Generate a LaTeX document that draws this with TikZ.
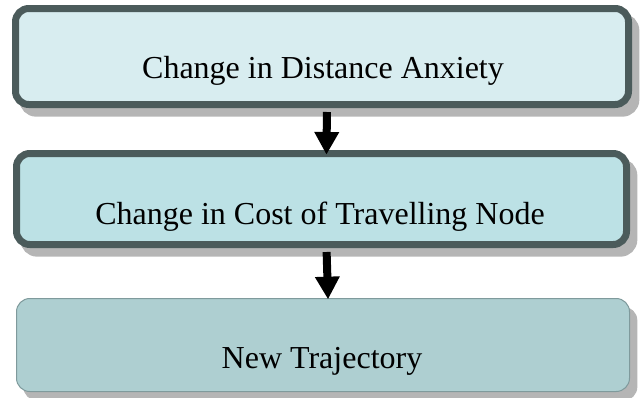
\documentclass[tikz,border=0pt]{standalone}
\usepackage{fontspec}
\setmainfont{Liberation Serif}
\usepackage{tikz}
\usetikzlibrary{arrows.meta}
\definecolor{edgedark}{HTML}{4B5B5B}
\definecolor{edgelight}{HTML}{7F9A9C}
\definecolor{fillone}{HTML}{D8EDF0}
\definecolor{filltwo}{HTML}{BCE1E5}
\definecolor{fillthree}{HTML}{AECFD1}
\definecolor{shadowgray}{HTML}{B5B5B5}

\begin{document}
\begin{tikzpicture}[x=0.75pt,y=-0.75pt,
		shadowed/.style={preaction={draw=shadowgray, fill=shadowgray, transform canvas={shift={(5.5pt,-6.5pt)}}}},
		step box/.style={rectangle, rounded corners=10pt, shadowed, minimum width=459.75pt, minimum height=68.25pt, inner sep=0pt},
		box label/.style={font=\fontsize{24}{28}\selectfont, anchor=base, inner sep=0pt},
		flow arrow/.style={-{Triangle[width=17.5pt,length=17pt]}, line width=6pt, black}]
			\useasboundingbox (0,0) rectangle (643,397);
			% Boxes
			\node [step box, draw=edgedark, line width=5.25pt, fill=fillone, minimum height=72pt] (b1) at (322,56.5) {};
			\node [step box, draw=edgedark, line width=5.25pt, fill=filltwo, minimum width=457.5pt] (b2) at (321.5,199) {};
			\node [step box, draw=edgelight, line width=0.75pt, fill=fillthree, minimum height=69.75pt, rounded corners=10pt] (b3) at (323,345) {};
			
			% Texts
			\node [box label] (t1) at (323,78) {Change in Distance Anxiety};
			\node [box label] (t2) at (320,224) {Change in Cost of Travelling Node};
			\node [box label] (t3) at (322,368) {New Trajectory};
			
			% Arrows
			\draw [flow arrow, shorten <=3pt, shorten >=-3.5pt] ([xshift=3.75pt]b1.south) -- ([xshift=3.75pt]b2.north);
			\draw [flow arrow, shorten <=3pt, shorten >=-1pt] ([xshift=3.75pt]b2.south) -- ([xshift=3.75pt]b3.north);
			
		\end{tikzpicture}
\end{document}
